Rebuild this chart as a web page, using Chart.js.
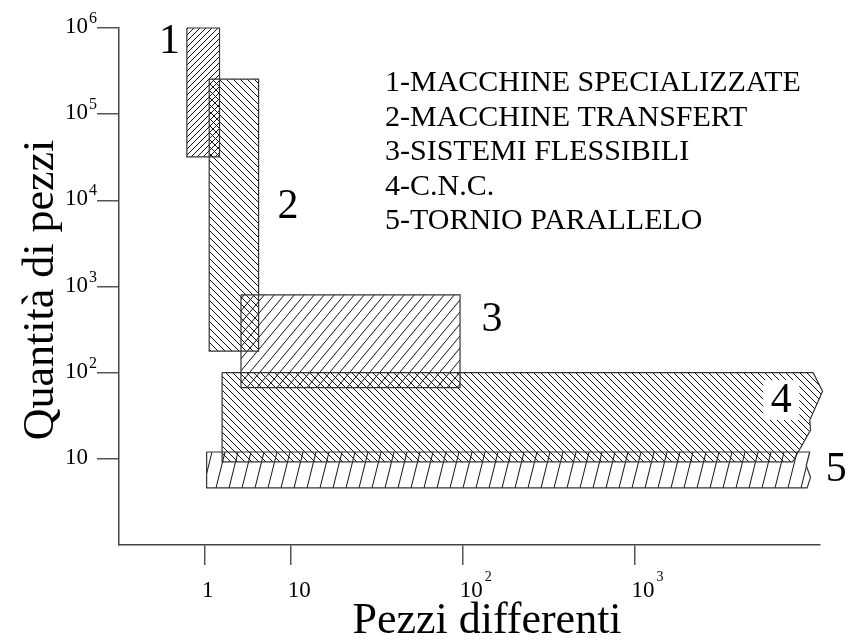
<!DOCTYPE html>
<html>
<head>
<meta charset="utf-8">
<script src="https://cdn.jsdelivr.net/npm/chart.js@4.4.0/dist/chart.umd.min.js"></script>
<style>
  html, body { margin: 0; padding: 0; background: #fff; }
</style>
</head>
<body>
<canvas id="myChart" width="845" height="639"></canvas>
<script>
// Categories and legend names
const categories = ['1', '2', '3', '4', '5'];
const seriesNames = ['1-MACCHINE SPECIALIZZATE', '2-MACCHINE TRANSFERT', '3-SISTEMI FLESSIBILI', '4-C.N.C.', '5-TORNIO PARALLELO'];

// x axis as drawn in the original: 1 -> 0, 10 -> 1, 10^2 -> 3, 10^3 -> 5 (axis units)
const xTickPos = [0, 1, 3, 5];
const xTickBase = ['1', '10', '10', '10'];
const xTickExp = ['', '', '2', '3'];
const yTickValues = [10, 1e2, 1e3, 1e4, 1e5, 1e6];
const yTickExp = ['', '2', '3', '4', '5', '6'];

// outlines of each area (x in axis units, y = quantity)
const area1X = [-0.21, 0.17, 0.17, -0.21, -0.21];
const area1Y = [1e6, 1e6, 3.2e4, 3.2e4, 1e6];
const area2X = [0.05, 0.625, 0.625, 0.05, 0.05];
const area2Y = [2.55e5, 2.55e5, 178, 178, 2.55e5];
const area3X = [0.42, 2.97, 2.97, 0.42, 0.42];
const area3Y = [800, 800, 67, 67, 800];
const area4X = [0.2, 7.08, 7.19, 7.04, 7.05, 6.84, 0.2, 0.2];
const area4Y = [100, 100, 61, 28, 21.6, 9.2, 9.2, 100];
const area5X = [0.02, 7.04, 7.0, 7.05, 7.01, 0.02, 0.02];
const area5Y = [12, 12, 8.3, 6.1, 4.6, 4.6, 12];

const areasX = [area1X, area2X, area3X, area4X, area5X];
const areasY = [area1Y, area2Y, area3Y, area4Y, area5Y];

const serif = '"Liberation Serif", "Times New Roman", "DejaVu Serif", serif';

// hatch patterns
function hatch(w, h, dir) {
  const c = document.createElement('canvas');
  c.width = w; c.height = h;
  const g = c.getContext('2d');
  g.strokeStyle = '#111';
  g.lineWidth = 1;
  g.beginPath();
  for (let k = -1; k <= 1; k++) {
    if (dir === '/') {
      g.moveTo(k * w, h); g.lineTo(k * w + w, 0);
    } else {
      g.moveTo(k * w, 0); g.lineTo(k * w + w, h);
    }
  }
  g.stroke();
  return g.createPattern(c, 'repeat');
}
const patterns = [
  hatch(6, 6, '/'),
  hatch(7, 7, '\\'),
  hatch(10, 12, '/'),
  hatch(7, 7, '\\'),
  hatch(13, 52, '/')
];

const hatchFill = {
  id: 'hatchFill',
  beforeDatasetsDraw(chart) {
    const ctx = chart.ctx;
    chart.data.datasets.forEach((ds, i) => {
      const pts = chart.getDatasetMeta(i).data;
      ctx.save();
      ctx.beginPath();
      pts.forEach((p, j) => j ? ctx.lineTo(p.x, p.y) : ctx.moveTo(p.x, p.y));
      ctx.closePath();
      ctx.fillStyle = patterns[i];
      ctx.fill();
      ctx.restore();
    });
  }
};

// where the big numbers sit (axis units / quantity)
const numberAnchors = [[-0.413, 5.1e5], [0.966, 6.2e3], [3.343, 304], [6.709, 34.9], [7.35, 5.53]];

const textLayer = {
  id: 'textLayer',
  afterDraw(chart) {
    const ctx = chart.ctx;
    const xs = chart.scales.x, ys = chart.scales.y;
    const area = chart.chartArea;
    ctx.save();
    ctx.fillStyle = '#000';
    ctx.textBaseline = 'alphabetic';

    // y tick labels
    yTickValues.forEach((v, i) => {
      const py = ys.getPixelForValue(v);
      ctx.font = '23px ' + serif;
      ctx.textAlign = 'right';
      ctx.fillText('10', area.left - 31, py + 5);
      if (yTickExp[i]) {
        ctx.font = '16px ' + serif;
        ctx.textAlign = 'left';
        ctx.fillText(yTickExp[i], area.left - 30, py - 5);
      }
    });

    // x tick labels
    xTickPos.forEach((v, i) => {
      const px = xs.getPixelForValue(v);
      ctx.font = '23px ' + serif;
      ctx.textAlign = 'left';
      ctx.fillText(xTickBase[i], px - 3, area.bottom + 52);
      if (xTickExp[i]) {
        const w = ctx.measureText(xTickBase[i]).width;
        ctx.font = '14px ' + serif;
        ctx.fillText(xTickExp[i], px - 3 + w + 2, area.bottom + 36);
      }
    });

    // big area numbers
    ctx.font = '42px ' + serif;
    ctx.textAlign = 'center';
    categories.forEach((c, i) => {
      const px = xs.getPixelForValue(numberAnchors[i][0]);
      const py = ys.getPixelForValue(numberAnchors[i][1]);
      if (i === 3) {
        ctx.fillStyle = '#fff';
        ctx.fillRect(px - 18, py - 32, 36, 40);
        ctx.fillStyle = '#000';
      }
      ctx.fillText(c, px, py);
    });

    // legend text
    ctx.font = '30px ' + serif;
    ctx.textAlign = 'left';
    seriesNames.forEach((s, i) => {
      ctx.fillText(s, 385, 91 + i * 34.5);
    });

    // axis titles
    ctx.font = '44px ' + serif;
    ctx.textAlign = 'center';
    ctx.fillText('Pezzi differenti', 487, 633);
    ctx.save();
    ctx.translate(53, 290);
    ctx.rotate(-Math.PI / 2);
    ctx.fillText('Quantità di pezzi', 0, 0);
    ctx.restore();

    ctx.restore();
  }
};

const ctx = document.getElementById('myChart').getContext('2d');
const myChart = new Chart(ctx, {
  type: 'scatter',
  data: {
    datasets: categories.map((c, i) => ({
      label: seriesNames[i],
      data: areasX[i].map((x, j) => ({ x: x, y: areasY[i][j] })),
      showLine: true,
      fill: false,
      tension: 0,
      borderColor: '#333',
      borderWidth: 1.2,
      pointRadius: 0,
      clip: false
    }))
  },
  options: {
    responsive: false,
    animation: false,
    layout: { padding: { left: 97, right: 25, top: 28, bottom: 74 } },
    plugins: {
      legend: { display: false },
      tooltip: { enabled: false }
    },
    scales: {
      x: {
        type: 'linear',
        min: -1,
        max: 7.16,
        afterBuildTicks: s => { s.ticks = xTickPos.map(v => ({ value: v })); },
        afterFit: s => { s.height = 20; },
        ticks: { display: false },
        grid: { drawOnChartArea: false, tickLength: 20, color: '#555', lineWidth: 1.5 },
        border: { color: '#444', width: 1.5 }
      },
      y: {
        type: 'logarithmic',
        min: 1,
        max: 1e6,
        afterBuildTicks: s => { s.ticks = yTickValues.map(v => ({ value: v })); },
        afterFit: s => { s.width = 22; },
        ticks: { display: false },
        grid: { drawOnChartArea: false, tickLength: 22, color: '#555', lineWidth: 1.5 },
        border: { color: '#444', width: 1.5 }
      }
    }
  },
  plugins: [hatchFill, textLayer]
});
</script>
</body>
</html>
